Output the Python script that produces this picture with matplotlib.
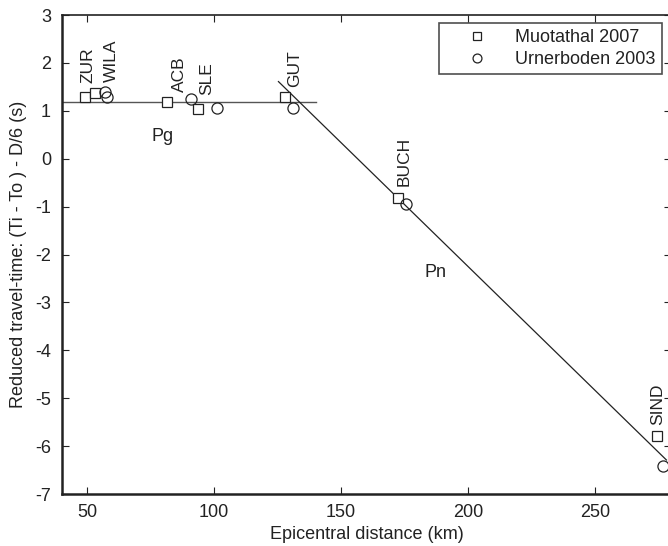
import matplotlib
matplotlib.use("Agg")
import matplotlib.pyplot as plt

plt.rcParams['font.family'] = ['Liberation Sans', 'DejaVu Sans']
plt.rcParams['axes.unicode_minus'] = False

# Data
muot_x = [49.2, 53.1, 81.4, 93.6, 127.7, 172.6, 274.3]
muot_y = [1.29, 1.37, 1.19, 1.04, 1.29, -0.83, -5.79]
urn_x = [57.1, 57.8, 90.9, 101.1, 131.0, 175.6, 276.9]
urn_y = [1.40, 1.29, 1.25, 1.05, 1.06, -0.95, -6.42]

station_names = ["ZUR", "WILA", "ACB", "SLE", "GUT", "BUCH", "SIND"]
station_x = [50.4, 59.3, 86.1, 97.1, 131.5, 174.8, 274.6]
station_y = [1.57, 1.61, 1.40, 1.32, 1.50, -0.58, -5.56]

pg_x = [40, 140]
pg_y = [1.18, 1.18]
pn_x = [125.3, 278.2]
pn_y = [1.61, -6.29]

phase_names = ["Pg", "Pn"]
phase_x = [79.7, 187.0]
phase_y = [0.46, -2.37]

xticks = [50, 100, 150, 200, 250]
yticks = [-7, -6, -5, -4, -3, -2, -1, 0, 1, 2, 3]

fig = plt.figure(figsize=(6.68, 5.46), dpi=100)
ax = fig.add_axes([62/668, 1-494/546, (671-62)/668, (494-15)/546])

tc = '#222222'
ax.plot(pg_x, pg_y, color='#555555', lw=1.0)
ax.plot(pn_x, pn_y, color='#222222', lw=0.9)
ax.plot(muot_x, muot_y, ls='none', marker='s', ms=6.5, mfc='white', mec='#222222',
        mew=0.9, label='Muotathal 2007')
ax.plot(urn_x, urn_y, ls='none', marker='o', ms=8, mfc='none', mec='#222222',
        mew=0.9, label='Urnerboden 2003')

for n, x, y in zip(station_names, station_x, station_y):
    ax.text(x, y, n, rotation=90, ha='center', va='bottom', fontsize=12.5, color=tc)
for n, x, y in zip(phase_names, phase_x, phase_y):
    ax.text(x, y, n, ha='center', va='center', fontsize=13, color=tc)

ax.set_xlim(40, 280)
ax.set_ylim(-7, 3)
ax.set_xticks(xticks)
ax.set_yticks(yticks)
ax.tick_params(direction='in', top=True, right=True, length=5, labelsize=13,
               colors=tc, width=0.8)
ax.tick_params(axis='x', pad=7)
ax.tick_params(axis='y', pad=8)
for s in ['left', 'bottom']:
    ax.spines[s].set_linewidth(1.8)
for s in ['top', 'right']:
    ax.spines[s].set_linewidth(1.2)
for s in ax.spines.values():
    s.set_color('#222222')

ax.set_xlabel('Epicentral distance (km)', fontsize=13, color=tc, labelpad=4)
ax.set_ylabel('Reduced travel-time: (Ti - To ) - D/6 (s)', fontsize=13, color=tc, labelpad=6)

leg = ax.legend(loc='upper right', bbox_to_anchor=((662-62)/609, 1 - 8/479),
                borderaxespad=0, fontsize=13, frameon=True, fancybox=False,
                edgecolor='#222222', markerscale=0.8, handlelength=3.6,
                handletextpad=0.3, borderpad=0.35, labelspacing=0.25)
leg.get_frame().set_linewidth(1.2)
for t in leg.get_texts():
    t.set_color(tc)

fig.savefig('out.png', dpi=100)
